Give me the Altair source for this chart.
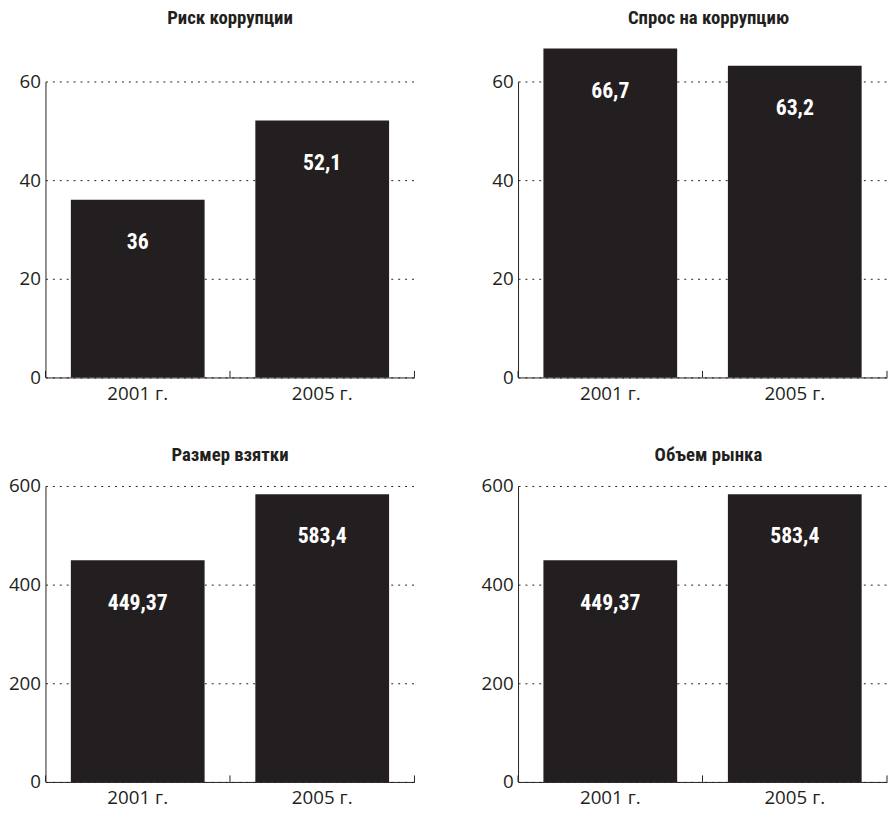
import altair as alt
import pandas as pd

# ---- data ----
years = ["2001 г.", "2005 г."]
titles = ["Риск коррупции", "Спрос на коррупцию", "Размер взятки", "Объем рынка"]
risk = [36, 52.1]
demand = [66.7, 63.2]
bribe = [449.37, 583.4]
market = [449.37, 583.4]
y_max = [60, 60, 600, 600]
y_step = [20, 20, 200, 200]

INK = "#231f20"
BOLD = "Liberation Sans Narrow, Roboto Condensed, Roboto, sans-serif"
REG = "Open Sans, Noto Sans, sans-serif"
W, H = 374, 300
P_INNER = 0.275
P_OUTER = P_INNER / 2
PAD_PX = P_OUTER * W / len(years)  # pixel gap between bar edge and band boundary


def make_x(bp=None):
    kw = {}
    if bp is not None:
        kw["bandPosition"] = bp
    return alt.X(
        "year:N",
        sort=years,
        title=None,
        scale=alt.Scale(domain=years, paddingInner=P_INNER, paddingOuter=P_OUTER),
        axis=alt.Axis(
            labelAngle=0, ticks=False, tickSize=0, labelPadding=7,
            labelFont=REG, labelFontSize=19, labelColor=INK,
            domainColor=INK, domainWidth=1, grid=False,
        ),
        **kw,
    )


def panel(title, values, ymax, step, title_gap, title_dx):
    df = pd.DataFrame({
        "year": years,
        "value": values,
        "label": [str(v).replace(".", ",") for v in values],
    })
    y = alt.Y(
        "value:Q",
        title=None,
        scale=alt.Scale(domain=[0, ymax], nice=False, zero=True),
        axis=alt.Axis(
            values=list(range(0, ymax + 1, step)), ticks=False, tickSize=0,
            labelPadding=5, labelFont=REG, labelFontSize=19, labelColor=INK,
            domainColor=INK, domainWidth=1, grid=True, gridColor=INK,
            gridDash=[2, 5], gridWidth=1,
        ),
    )
    base = alt.Chart(df).encode(x=make_x(), y=y)
    bars = base.mark_bar(color=INK)
    text = base.mark_text(
        color="white", font=BOLD, fontSize=22, fontWeight="bold",
        baseline="middle", dy=43,
    ).encode(text="label:N")
    tick_l = alt.Chart(df).mark_rule(color=INK, strokeWidth=1, xOffset=-PAD_PX).encode(
        x=make_x(0), y=alt.datum(0), y2=alt.datum(ymax * 0.022)
    )
    tick_r = alt.Chart(df).mark_rule(color=INK, strokeWidth=1, xOffset=PAD_PX).encode(
        x=make_x(1), y=alt.datum(0), y2=alt.datum(ymax * 0.022)
    ).transform_filter(alt.datum.year == years[-1])
    head = alt.Chart(pd.DataFrame({"t": [title]})).mark_text(
        font=BOLD, fontSize=19, fontWeight="bold", color=INK,
        baseline="top", align="center",
    ).encode(x=alt.value(W / 2 + title_dx), y=alt.value(-title_gap), text="t:N")
    return alt.layer(bars, text, tick_l, tick_r, head).properties(width=W, height=H)


series = [risk, demand, bribe, market]
gaps = [73, 73, 40.5, 40.5]
dxs = [0, 6, 0, 6]
panels = [
    panel(t, s, m, st, g, d)
    for t, s, m, st, g, d in zip(titles, series, y_max, y_step, gaps, dxs)
]

chart = alt.concat(
    *panels, columns=2, spacing={"row": 43, "column": 66}
).properties(
    padding={"top": -4, "left": 0, "right": 0, "bottom": 0}
).configure_view(stroke=None)

chart.save("out.html", embed_options={"renderer": "svg", "actions": False})
